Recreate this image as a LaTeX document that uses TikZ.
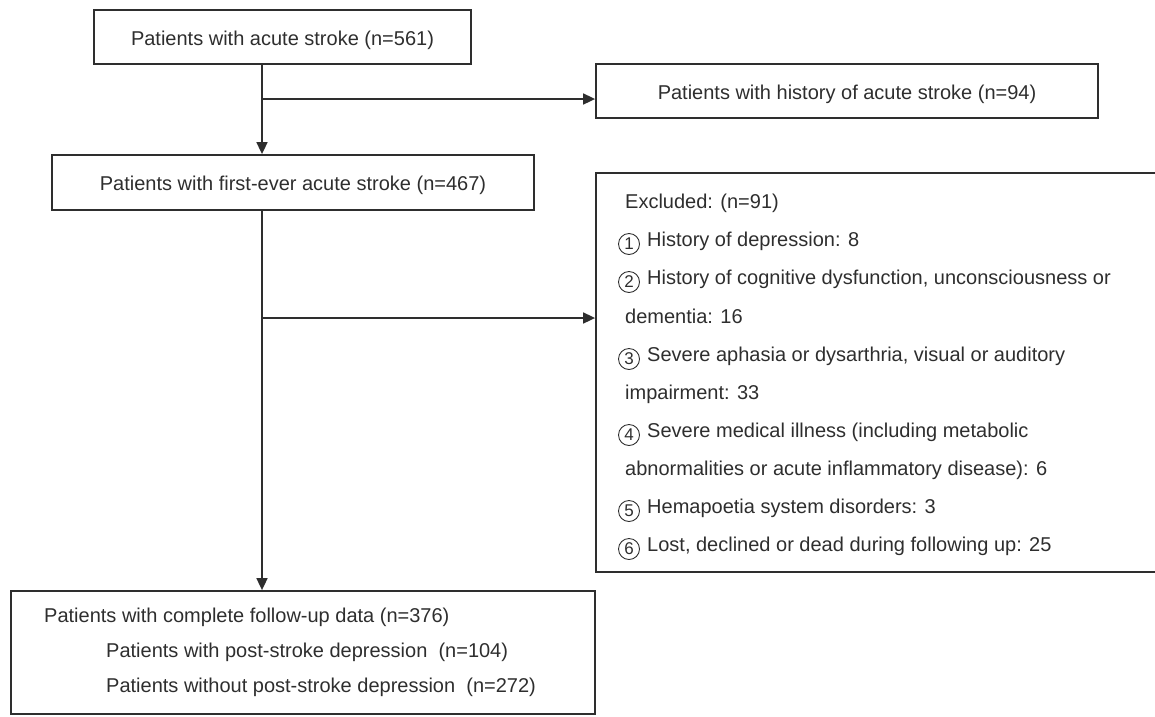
\documentclass[tikz,border=0pt]{standalone}
\usepackage{fontspec}
\setmainfont{Liberation Sans}
\usetikzlibrary{arrows.meta}
\definecolor{ink}{HTML}{2E2E2E}
\begin{document}
\begin{tikzpicture}[x=1pt,y=-1pt,
  every node/.style={text=ink, font=\fontsize{20}{24}\selectfont},
  box/.style={draw=ink, line width=1.8pt, inner sep=0pt, text height=16pt, text depth=0pt},
  conn/.style={draw=ink, line width=1.7pt},
  arr/.style={conn, -{Triangle[length=12pt,width=11pt]}},
  txt/.style={anchor=base west, inner sep=0pt},
  num/.style={circle, draw=ink, line width=0.9pt, inner sep=0pt, minimum size=21pt, font=\fontsize{17}{17}\selectfont}
]
\useasboundingbox (0,0) rectangle (1155,716);

% boxes
\node[box, minimum width=377pt, minimum height=54pt] (b1) at (282.5,37) {Patients with acute stroke (n=561)};
\node[box, minimum width=502pt, minimum height=54pt] (b2) at (847,91) {Patients with history of acute stroke (n=94)};
\node[box, minimum width=482pt, minimum height=55pt] (b3) at (293,182.5) {Patients with first-ever acute stroke (n=467)};
\node[box, minimum width=584pt, minimum height=399pt] (ex) at (888,372.5) {};
\node[box, minimum width=584pt, minimum height=123pt] (b4) at (303,652.5) {};

% excluded text
\node[txt] (e0) at (625,208) {Excluded: (n=91)};
\node[num] (n1) at (629,244) {1};
\node[txt] (e1) at (647,246) {History of depression: 8};
\node[num] (n2) at (629,282) {2};
\node[txt] (e2) at (647,284) {History of cognitive dysfunction, unconsciousness or};
\node[txt] (e2b) at (625,323) {dementia: 16};
\node[num] (n3) at (629,359) {3};
\node[txt] (e3) at (647,361) {Severe aphasia or dysarthria, visual or auditory};
\node[txt] (e3b) at (625,399) {impairment: 33};
\node[num] (n4) at (629,435) {4};
\node[txt] (e4) at (647,437) {Severe medical illness (including metabolic};
\node[txt] (e4b) at (625,475) {abnormalities or acute inflammatory disease): 6};
\node[num] (n5) at (629,511) {5};
\node[txt] (e5) at (647,513) {Hemapoetia system disorders: 3};
\node[num] (n6) at (629,549) {6};
\node[txt] (e6) at (647,551) {Lost, declined or dead during following up: 25};

% bottom box text
\node[txt] (f1) at (44,622) {Patients with complete follow-up data (n=376)};
\node[txt] (f2) at (106,657) {Patients with post-stroke depression\ \ (n=104)};
\node[txt] (f3) at (106,692) {Patients without post-stroke depression\ \ (n=272)};

% connectors
\coordinate (j1) at (262,99);
\coordinate (j2) at (262,318);
\draw[arr] (b1.south -| j1) -- (b3.north -| j1);
\draw[arr] (j1) -- (j1 -| b2.west);
\draw[arr] (b3.south -| j2) -- (b4.north -| j2);
\draw[arr] (j2) -- (j2 -| ex.west);
\end{tikzpicture}
\end{document}
